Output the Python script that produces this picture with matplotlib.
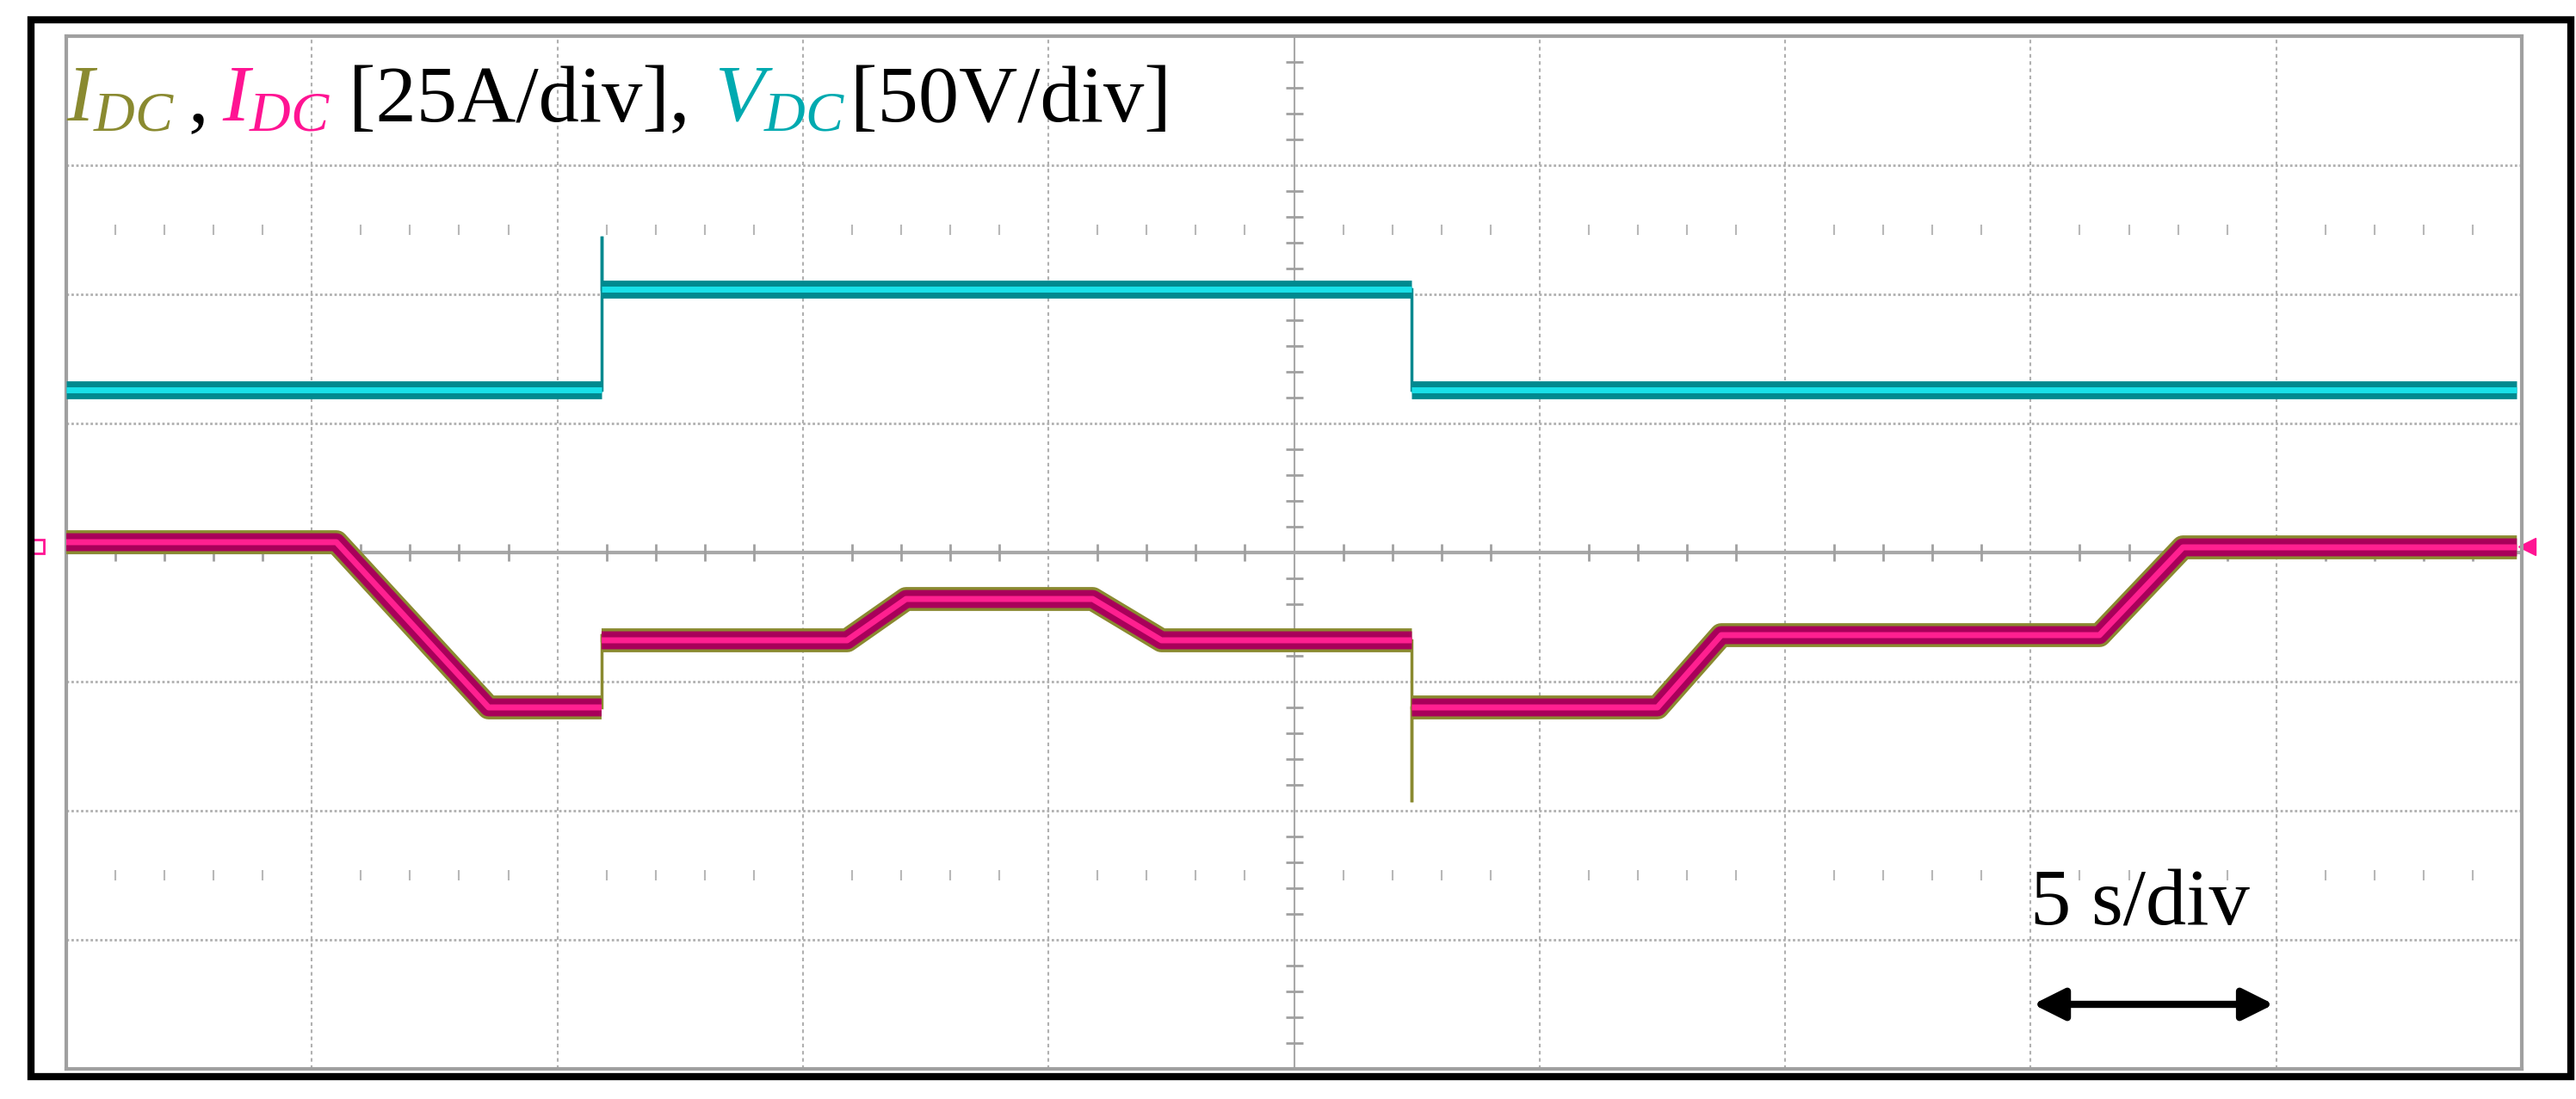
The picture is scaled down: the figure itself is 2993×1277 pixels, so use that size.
import matplotlib
matplotlib.use("Agg")
import matplotlib.pyplot as plt
from matplotlib.patches import Rectangle
import numpy as np

plt.rcParams['mathtext.fontset'] = 'custom'
plt.rcParams['mathtext.rm'] = 'Liberation Serif'
plt.rcParams['mathtext.it'] = 'Liberation Serif:italic'
plt.rcParams['font.family'] = 'Liberation Serif'

# time [s], current [A] (25 A/div), voltage [V] (50 V/div)
t_i = [0, 5.5, 8.6, 10.9, 10.9, 10.9, 15.9, 17.1, 20.9, 22.3, 27.4, 27.4, 27.4, 27.4, 32.4, 33.7, 41.4, 43.1, 49.9]
i_dc = [2, 2, -30, -30, -16, -17, -17, -9, -9, -17, -17, -30, -48, -30, -30, -16, -16, 1, 1]
t_v = [0, 10.9, 10.9, 10.9, 27.4, 27.4, 49.9]
v_dc = [63, 63, 122, 102, 102, 63, 63]
A_DIV, V_DIV = 25, 50

W, H = 2993, 1277
fig = plt.figure(figsize=(W/100, H/100), dpi=100)
ax = fig.add_axes([77/W, 1-1242/H, 2853/W, 1200/H])
ax.set_xlim(0, 50); ax.set_ylim(-4, 4)
for s in ax.spines.values():
    s.set_color('#a0a0a0'); s.set_linewidth(3)
ax.set_xticks([]); ax.set_yticks([])
for x in range(5, 50, 5):
    if x != 25:
        ax.axvline(x, color='#b0b0b0', ls=(0, (2, 2)), lw=1.5)
for y in range(-3, 4):
    if y != 0:
        ax.axhline(y, color='#b0b0b0', ls=(0, (1, 1)), lw=2)
ax.axhline(0, color='#a8a8a8', lw=3)
ax.axvline(25, color='#a8a8a8', lw=1.5)
mx = [k for k in np.arange(0, 50.01, 1.0) if k % 5 != 0]
ax.plot(mx, [0]*len(mx), ls='none', marker='|', ms=14, mew=2, color='#a0a0a0')
for yy in (2.5, -2.5):
    ax.plot(mx, [yy]*len(mx), ls='none', marker='|', ms=8, mew=1.5, color='#b8b8b8')
my = [k for k in np.arange(-4, 4.01, 0.2) if abs(k - round(k)) > 1e-6]
ax.plot([25]*len(my), my, ls='none', marker='_', ms=14, mew=2, color='#a0a0a0')


def draw(t, y, layers, thin_color):
    t = list(t); y = list(y)
    runs, cur = [], [(t[0], y[0])]
    for k in range(1, len(t)):
        if t[k] == t[k-1]:
            ax.plot([t[k-1], t[k]], [y[k-1], y[k]], color=thin_color, lw=2.5, zorder=4)
            if len(cur) > 1:
                runs.append(cur)
            cur = [(t[k], y[k])]
        else:
            cur.append((t[k], y[k]))
    if len(cur) > 1:
        runs.append(cur)
    for r in runs:
        xs, ys = zip(*r)
        for col, lw in layers:
            ax.plot(xs, ys, color=col, lw=lw, solid_capstyle='butt', zorder=5)


draw(t_v, np.array(v_dc)/V_DIV, [('#00898f', 15), ('#19e0e8', 5)], '#00898f')
draw(t_i, np.array(i_dc)/A_DIV, [('#8a8a30', 20), ('#a8005a', 15), ('#ff2090', 5)], '#8a8a30')

ax.plot([50.1], [0.05], marker='<', ms=14, color='#ff1493', clip_on=False)
ax.plot([-0.6], [0.05], marker='s', ms=12, mfc='none', mec='#ff1493', mew=2, clip_on=False)

ax.annotate('', xy=(40, -3.5), xytext=(45, -3.5),
            arrowprops=dict(arrowstyle='<|-|>', color='black', lw=6, mutation_scale=55))
ax.text(40.0, -2.88, '5 s/div', fontsize=68, color='black', va='baseline')

yb = 1 - 141/H
fs = 68
fig.text(77/W, yb, r'$I_{DC}$', color='#8a8a30', fontsize=fs)
fig.text(218/W, yb, ',', color='black', fontsize=fs)
fig.text(258/W, yb, r'$I_{DC}$', color='#ff1493', fontsize=fs)
fig.text(405/W, yb, '[25A/div],', color='black', fontsize=fs)
fig.text(830/W, yb, r'$V_{DC}$', color='#00aab0', fontsize=fs)
fig.text(988/W, yb, '[50V/div]', color='black', fontsize=fs)

fig.add_artist(Rectangle((36/W, 1-1251/H), (2987-36)/W, (1251-23)/H,
                         transform=fig.transFigure, fill=False, ec='black', lw=6))
fig.savefig('out.png', dpi=100)
